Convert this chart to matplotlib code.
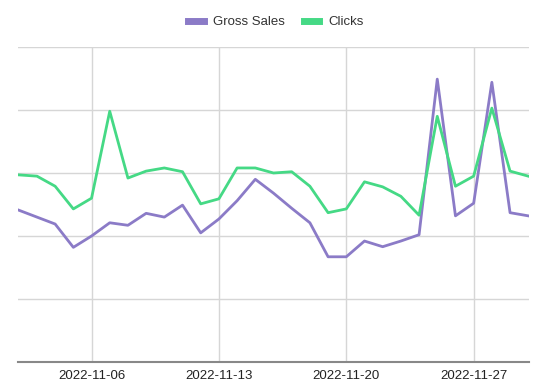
import matplotlib
matplotlib.use('Agg')
import matplotlib.pyplot as plt
import matplotlib.dates as mdates
import numpy as np
import pandas as pd

plt.rcParams['font.family'] = ['Liberation Sans', 'DejaVu Sans']

# Daily values, 2022-11-02 .. 2022-11-30 (no axis labels shown, relative units)
dates = pd.date_range('2022-11-02', '2022-11-30', freq='D')
gross_sales = [241, 230, 219, 182, 200, 221, 217, 236, 230, 249, 205, 227,
               256, 290, 268, 244, 221, 167, 167, 192, 183, 192, 202, 449,
               232, 252, 444, 237, 232]
clicks = [297, 295, 279, 243, 260, 398, 292, 303, 308, 302, 251, 259,
          308, 308, 300, 302, 279, 237, 243, 286, 278, 263, 233, 390,
          279, 295, 403, 303, 295]

fig = plt.figure(figsize=(5.6, 3.9), dpi=100)
ax = fig.add_axes([18 / 560, 28 / 390, 511 / 560, 315 / 390])

ax.plot(dates, gross_sales, color='#8b7bc7', linewidth=2, label='Gross Sales')
ax.plot(dates, clicks, color='#45d985', linewidth=2, label='Clicks')

ax.set_ylim(0, 500)
ax.set_yticks(np.arange(0, 501, 100))
ax.set_yticklabels([])
ax.set_xlim(dates[0] - pd.Timedelta(hours=1), dates[-1] + pd.Timedelta(hours=1))
ax.set_xticks(pd.to_datetime(['2022-11-06', '2022-11-13', '2022-11-20', '2022-11-27']))
ax.xaxis.set_major_formatter(mdates.DateFormatter('%Y-%m-%d'))
ax.tick_params(axis='both', length=0, labelsize=9.5, labelcolor='#222222')
ax.tick_params(axis='x', pad=6)

ax.grid(True, color='#d6d6d6', linewidth=1)
ax.set_axisbelow(True)
for s in ['top', 'right', 'left']:
    ax.spines[s].set_visible(False)
ax.spines['bottom'].set_color('#888888')
ax.spines['bottom'].set_linewidth(1.5)

ax.legend(loc='center', bbox_to_anchor=(0.505, 1.079), ncol=2, frameon=False,
          fontsize=9.5, handlelength=1.2, handleheight=0.4, columnspacing=1.4,
          handletextpad=0.7, labelcolor='#333333')
for h in ax.get_legend().legend_handles:
    h.set_linewidth(5)

fig.savefig('out.png', dpi=100)
